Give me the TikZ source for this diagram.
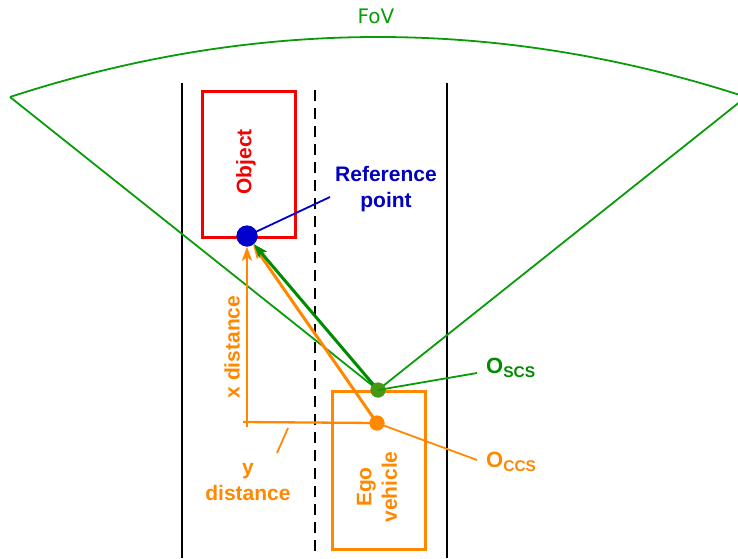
\documentclass[tikz,border=0pt]{standalone}
\usepackage{fontspec}
\setmainfont{Liberation Sans}
\newfontfamily\fovfont{DejaVu Sans}
\usetikzlibrary{arrows.meta,calc}
\definecolor{fovgreen}{RGB}{10,155,10}
\definecolor{txtgreen}{RGB}{0,140,0}
\definecolor{arrgreen}{RGB}{0,140,0}
\definecolor{dotgreen}{RGB}{75,150,20}
\definecolor{egoorange}{RGB}{255,136,0}
\definecolor{objred}{RGB}{245,0,0}
\definecolor{dotblue}{RGB}{0,0,205}
\definecolor{txtblue}{RGB}{0,0,190}
\newcommand{\subtxt}[1]{{\fontsize{15.5}{16}\selectfont\raisebox{-4pt}{#1}}}
\tikzset{
  lane/.style={black, line width=2.3pt},
  fovline/.style={fovgreen, line width=1.8pt},
  lbl/.style={font=\bfseries\fontsize{21}{25.5}\selectfont, align=center, inner sep=0pt},
  biglbl/.style={font=\bfseries\fontsize{22}{24}\selectfont, inner sep=0pt},
  dotnode/.style={circle, inner sep=0pt, minimum size=#1},
  arr/.style={line width=3pt, -{Stealth[length=14pt,width=10pt,inset=3.5pt]}}
}
\begin{document}
\begin{tikzpicture}[x=1pt,y=-1pt]
\useasboundingbox (0,0) rectangle (738,558);
\clip (0,0) rectangle (738,558);
% lanes
\draw[lane] (182,83) -- (182,558);
\draw[lane] (447,83) -- (447,558);
\draw[black, line width=2.3pt, dash pattern=on 11pt off 7pt] (315,90) -- (315,558);
% nodes
\node[draw=objred, line width=3pt, minimum width=93pt, minimum height=146pt, inner sep=0pt] (obj) at (248.5,164) {};
\node[lbl, objred, rotate=90] (objt) at (246,162) {Object};
\node[draw=egoorange, line width=3pt, minimum width=93pt, minimum height=158pt, inner sep=0pt] (ego) at (378.5,470) {};
\node[lbl, egoorange, rotate=90] (egot) at (377,487) {Ego\\vehicle};
\node[dotnode=21pt, fill=dotblue] (ref) at (247,236) {};
\node[dotnode=15pt, fill=dotgreen] (scsdot) at (378,390) {};
\node[dotnode=15pt, fill=egoorange] (ccsdot) at (377,423) {};
% FoV
\coordinate (fl) at (10,97);
\coordinate (fr) at (746,97);
\draw[fovline] (fl) .. controls (255,17) and (501,17) .. (fr);
\draw[fovline] (fl) -- (scsdot.center) -- (fr);
\node[fovgreen, font=\fovfont\fontsize{20}{22}\selectfont] (fov) at (376,16) {FoV};
% distances
\coordinate (hl) at (243,422);
\coordinate (vb) at (247,427);
\draw[egoorange, line width=2.3pt] (hl) -- (ccsdot.center);
\draw[egoorange, arr, line width=2.5pt] (vb) -- (ref);
\draw[egoorange, arr] (ccsdot.center) -- (ref);
\draw[arrgreen, arr] (scsdot.center) -- (ref);
\node[dotnode=21pt, fill=dotblue] at (247,236) {};
\node[dotnode=15pt, fill=dotgreen] at (378,390) {};
\node[dotnode=15pt, fill=egoorange] at (377,423) {};
\node[lbl, egoorange, rotate=90] (xd) at (232,347) {x distance};
\node[lbl, egoorange] (yd) at (248,482) {y\\distance};
\coordinate (yp1) at (288,428);
\coordinate (yp2) at (277,453);
\draw[egoorange, line width=1.8pt] (yp1) -- (yp2);
% labels
\node[lbl, txtblue] (refl) at (386,189) {Reference\\point};
\coordinate (refe) at (330,197);
\draw[dotblue, line width=1.8pt] (ref.center) -- (refe);
\node[biglbl, txtgreen, anchor=base west] (scs) at (486,373) {O\subtxt{SCS}};
\coordinate (scse) at (477,373);
\draw[fovgreen, line width=1.8pt] (scsdot.center) -- (scse);
\node[biglbl, egoorange, anchor=base west] (ccs) at (486,467) {O\subtxt{CCS}};
\coordinate (ccse) at (477,460);
\draw[egoorange, line width=1.8pt] (ccsdot.center) -- (ccse);
\end{tikzpicture}
\end{document}
